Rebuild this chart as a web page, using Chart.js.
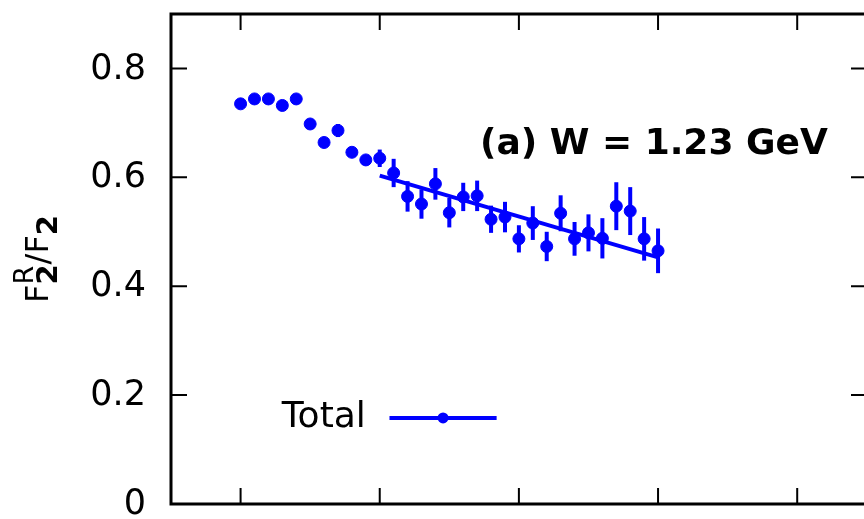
<!DOCTYPE html>
<html>
<head>
<meta charset="utf-8">
<script src="https://cdn.jsdelivr.net/npm/chart.js@4/dist/chart.umd.min.js"></script>
<style>
  html, body { margin: 0; padding: 0; background: #fff; overflow: hidden; }
  canvas { display: block; }
</style>
</head>
<body>
<canvas id="myChart" width="864" height="519"></canvas>
<script>
// data
const xValues = [0.0, 0.1, 0.2, 0.3, 0.4, 0.5, 0.6, 0.7, 0.8, 0.9,
                 1.0, 1.1, 1.2, 1.3, 1.4, 1.5, 1.6, 1.7, 1.8, 1.9,
                 2.0, 2.1, 2.2, 2.3, 2.4, 2.5, 2.6, 2.7, 2.8, 2.9, 3.0];
const ratioValues = [0.735, 0.744, 0.744, 0.732, 0.744, 0.698, 0.664, 0.686, 0.646, 0.632,
                     0.635, 0.608, 0.565, 0.551, 0.588, 0.535, 0.564, 0.566, 0.523, 0.527,
                     0.487, 0.516, 0.473, 0.534, 0.487, 0.498, 0.488, 0.547, 0.538, 0.487, 0.465];
const ratioErrors = [0.005, 0.005, 0.005, 0.005, 0.005, 0.005, 0.005, 0.012, 0.005, 0.008,
                     0.016, 0.026, 0.028, 0.027, 0.029, 0.027, 0.026, 0.028, 0.025, 0.028,
                     0.025, 0.031, 0.027, 0.033, 0.031, 0.034, 0.037, 0.044, 0.044, 0.040, 0.041];
const fitX = [1.0, 3.0];
const fitY = [0.603, 0.453];
const xTicks = [0, 1, 2, 3, 4];
const yTicks = [0, 0.2, 0.4, 0.6, 0.8];
const yTickLabels = ['0', '0.2', '0.4', '0.6', '0.8'];

const BLUE = 'rgb(0, 0, 255)';
const FONT = '"DejaVu Sans", sans-serif';

//error bars, no caps
const errorBars = {
  id: 'errorBars',
  beforeDatasetsDraw(chart) {
    const { ctx, scales: { x, y } } = chart;
    ctx.save();
    ctx.strokeStyle = BLUE;
    ctx.lineWidth = 4;
    xValues.forEach((xv, i) => {
      const px = x.getPixelForValue(xv);
      ctx.beginPath();
      ctx.moveTo(px, y.getPixelForValue(ratioValues[i] - ratioErrors[i]));
      ctx.lineTo(px, y.getPixelForValue(ratioValues[i] + ratioErrors[i]));
      ctx.stroke();
    });
    ctx.restore();
  }
};

//box (right side is cut off by the crop), inward ticks, tick labels, key, titles
const frame = {
  id: 'frame',
  afterDraw(chart) {
    const { ctx, chartArea: a, scales: { x, y } } = chart;
    ctx.save();
    ctx.strokeStyle = '#000';
    ctx.lineWidth = 2;
    const tl = 16;
    ctx.beginPath();
    xTicks.forEach(v => {
      const px = x.getPixelForValue(v);
      ctx.moveTo(px, a.bottom); ctx.lineTo(px, a.bottom - tl);
      ctx.moveTo(px, a.top); ctx.lineTo(px, a.top + tl);
    });
    yTicks.forEach(v => {
      const py = y.getPixelForValue(v);
      ctx.moveTo(a.left, py); ctx.lineTo(a.left + tl, py);
      ctx.moveTo(a.right, py); ctx.lineTo(a.right + 3 - tl, py);
    });
    ctx.stroke();
    ctx.lineWidth = 3;
    ctx.beginPath();
    ctx.moveTo(a.right, a.top);
    ctx.lineTo(a.left, a.top);
    ctx.lineTo(a.left, a.bottom);
    ctx.lineTo(a.right, a.bottom);
    ctx.stroke();

    // y tick labels
    ctx.fillStyle = '#000';
    ctx.font = '35px ' + FONT;
    ctx.textAlign = 'right';
    ctx.textBaseline = 'middle';
    yTicks.forEach((v, i) => {
      ctx.fillText(yTickLabels[i], a.left - 25, y.getPixelForValue(v) + 1);
    });

    // panel label
    ctx.font = 'bold 36px ' + FONT;
    ctx.fillText('(a) W = 1.23 GeV', x.getPixelForValue(4.22), y.getPixelForValue(0.66));

    // key
    const ky = y.getPixelForValue(0.158);
    ctx.font = '36px ' + FONT;
    ctx.fillText('Total', x.getPixelForValue(0.9), ky);
    ctx.strokeStyle = BLUE;
    ctx.lineWidth = 4;
    ctx.beginPath();
    ctx.moveTo(x.getPixelForValue(1.07), ky);
    ctx.lineTo(x.getPixelForValue(1.84), ky);
    ctx.stroke();
    ctx.fillStyle = BLUE;
    ctx.beginPath();
    ctx.arc(x.getPixelForValue(1.455), ky, 5.5, 0, Math.PI * 2);
    ctx.fill();

    // y title F2^R/F2
    ctx.translate(48, (a.top + a.bottom) / 2);
    ctx.rotate(-Math.PI / 2);
    ctx.fillStyle = '#000';
    ctx.textAlign = 'left';
    ctx.textBaseline = 'alphabetic';
    const big = '32px ' + FONT, sub = 'bold 29px ' + FONT, sup = '27px ' + FONT;
    ctx.font = big; const wF = ctx.measureText('F').width; const wSF = ctx.measureText('/F').width;
    ctx.font = sub; const w2 = ctx.measureText('2').width;
    ctx.font = sup; const wR = ctx.measureText('R').width;
    const total = wF + Math.max(w2, wR) + wSF + w2;
    let cx = -total / 2;
    ctx.font = big; ctx.fillText('F', cx, 0); cx += wF;
    ctx.font = sub; ctx.fillText('2', cx, 9);
    ctx.font = sup; ctx.fillText('R', cx, -15); cx += Math.max(w2, wR);
    ctx.font = big; ctx.fillText('/F', cx, 0); cx += wSF;
    ctx.font = sub; ctx.fillText('2', cx, 9);
    ctx.restore();
  }
};

//config
const config = {
  type: 'scatter',
  data: {
    datasets: [
      {
        label: 'Total',
        data: xValues.map((v, i) => ({ x: v, y: ratioValues[i] })),
        backgroundColor: BLUE,
        borderColor: BLUE,
        pointRadius: 6,
        pointHoverRadius: 6,
        showLine: false
      },
      {
        label: 'fit',
        data: fitX.map((v, i) => ({ x: v, y: fitY[i] })),
        borderColor: BLUE,
        borderWidth: 4,
        pointRadius: 0,
        showLine: true
      }
    ]
  },
  options: {
    responsive: false,
    maintainAspectRatio: false,
    devicePixelRatio: 1,
    animation: false,
    events: [],
    layout: { autoPadding: false, padding: { top: 14, right: 0, left: 0, bottom: 0 } },
    plugins: { legend: { display: false }, tooltip: { enabled: false } },
    scales: {
      x: {
        type: 'linear',
        min: -0.5,
        max: 4.48,
        grid: { display: false, drawTicks: false },
        border: { display: false },
        ticks: { display: false },
        afterFit(scale) { scale.height = 15; }
      },
      y: {
        min: 0,
        max: 0.9,
        grid: { display: false, drawTicks: false },
        border: { display: false },
        ticks: { display: false, stepSize: 0.2 },
        afterFit(scale) { scale.width = 171; }
      }
    }
  },
  plugins: [errorBars, frame]
};

//start
const myChart = new Chart(document.getElementById('myChart'), config);
</script>
</body>
</html>
